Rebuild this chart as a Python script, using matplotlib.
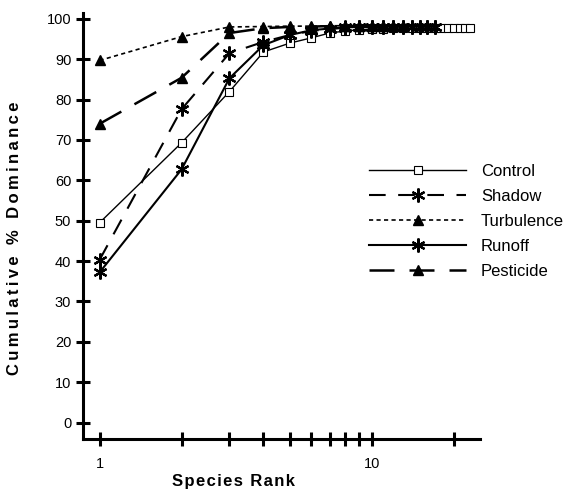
import matplotlib
matplotlib.use("Agg")
import matplotlib.pyplot as plt
from matplotlib.ticker import FixedLocator, NullFormatter

plt.rcParams['font.family'] = ['Liberation Sans', 'DejaVu Sans']

# cumulative % dominance by species rank
control = [49.5, 69.3, 82.0, 91.8, 94.0, 95.3, 96.5, 97.0, 97.3, 97.5, 97.6,
           97.7, 97.7, 97.8, 97.8, 97.8, 97.8, 97.8, 97.8, 97.8, 97.8, 97.8, 97.8]
shadow = [40.3, 77.6, 91.5, 94.3, 96.0, 97.0, 97.5, 97.8, 98.0, 98.0, 98.1,
          98.1, 98.1, 98.1, 98.1, 98.1, 98.1]
turbulence = [89.7, 95.6, 98.0, 98.1, 98.2, 98.2, 98.3, 98.3, 98.3, 98.3,
              98.3, 98.3, 98.3]
runoff = [37.2, 62.7, 85.3, 93.5, 96.0, 97.2, 97.6, 97.9, 98.0, 98.0, 98.0,
          98.1, 98.1, 98.1, 98.1, 98.1, 98.1]
pesticide = [74.0, 85.4, 96.5, 97.7, 98.0, 98.1, 98.2, 98.2, 98.3, 98.3,
             98.3, 98.3, 98.3]

series = [
    ("Control", control, dict(ls='-', lw=1.0, marker='s', ms=6, mfc='white', mec='black', mew=0.8)),
    ("Shadow", shadow, dict(ls=(0, (8, 6)), lw=1.5, marker=(6, 2, 0), ms=10, mew=1.6)),
    ("Turbulence", turbulence, dict(ls=(0, (2.5, 2)), lw=1.2, marker='^', ms=7)),
    ("Runoff", runoff, dict(ls='-', lw=1.5, marker=(6, 2, 0), ms=10, mew=1.6)),
    ("Pesticide", pesticide, dict(ls=(0, (10, 6)), lw=1.8, marker='^', ms=7)),
]

fig = plt.figure(figsize=(5.73, 4.93), dpi=100)
ax = fig.add_axes([0.145, 0.11, 0.693, 0.864])

for name, vals, style in series:
    ranks = list(range(1, len(vals) + 1))
    ax.plot(ranks, vals, color='black', label=name, **style)

ax.set_xscale('log')
ax.set_xlim(0.87, 25)
ax.set_ylim(-4, 101.5)
ax.set_yticks(range(0, 101, 10))
ax.xaxis.set_major_locator(FixedLocator([1, 10]))
ax.xaxis.set_minor_locator(FixedLocator([2, 3, 4, 5, 6, 7, 8, 9, 20]))
ax.xaxis.set_minor_formatter(NullFormatter())
ax.set_xticklabels(['1', '10'])

for s in ['top', 'right']:
    ax.spines[s].set_visible(False)
for s in ['left', 'bottom']:
    ax.spines[s].set_linewidth(2.2)

ax.tick_params(which='both', direction='inout', length=10, width=2.2, labelsize=10.5)
ax.tick_params(axis='x', pad=8)

# letter-spaced bold axis titles, like the original
ax.set_ylabel('\u2009'.join('Cumulative % Dominance'), fontsize=12, fontweight='bold')
ax.set_xlabel('\u200a'.join('Species Rank'), fontsize=12, fontweight='bold')
ax.yaxis.set_label_coords(-0.155, 0.47)
ax.xaxis.set_label_coords(0.378, -0.083)

ax.legend(loc='center left', bbox_to_anchor=(0.683, 0.51), frameon=False,
          fontsize=12, handlelength=5.8, labelspacing=0.6, handletextpad=0.9)

fig.savefig('out.png', dpi=100)
